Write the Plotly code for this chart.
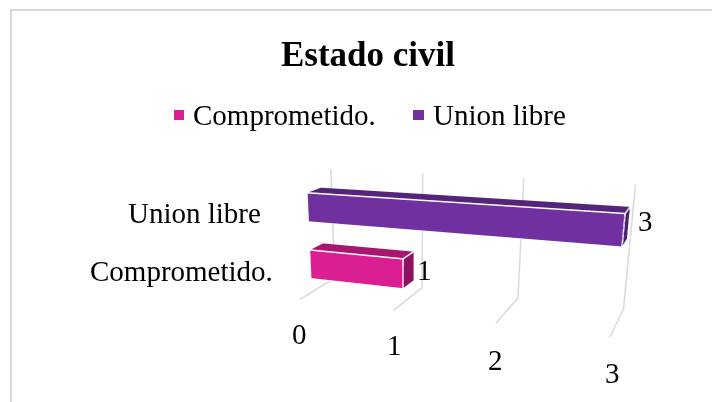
import plotly.graph_objects as go

# --- data ---
categories = ["Comprometido.", "Union libre"]
values = [1, 3]
tick_values = [0, 1, 2, 3]
title_text = "Estado civil"

# --- styles ---
front_colors = ["#DA1F93", "#7030A0"]
top_colors = ["#A8176F", "#54247A"]
side_colors = ["#8B1260", "#4B2070"]
grid_color = "#D9D9D9"
FONT = "Liberation Serif"

W, H = 712, 700          # the scene is taller than the window so that the lens matches
bar_depth = (0.329, 0.69)
bar_heights = [(0.126, 0.378), (0.628, 0.871)]
EYE = (0.8, -2.476, 0.666)
FORWARD = (-0.3955, 0.8432, -0.3641)
UP = (-0.1314, 0.3404, 0.931)
ASPECT = dict(x=1, y=0.262, z=0.388)
tick_shift = [(-1, -35), (1, -34), (0, -37), (3, -36)]
cat_shift = [(-36, -7), (-45, -6)]
val_shift = [(16, 0), (19, 5)]


def px(x):
    return x / W


def py(y):
    return 1 - y / H


fig = go.Figure()

# gridlines: floor line then wall line for every tick
for t in tick_values:
    fig.add_trace(go.Scatter3d(
        x=[t, t, t], y=[0, 1, 1], z=[0, 0, 1], mode="lines",
        line=dict(color=grid_color, width=3), hoverinfo="skip", showlegend=False))

# bars
for cat, val, (z0, z1), cf, ct, cs in zip(categories, values, bar_heights,
                                          front_colors, top_colors, side_colors):
    y0, y1 = bar_depth
    xs = [0, val, val, 0, 0, val, val, 0]
    ys = [y0, y0, y1, y1, y0, y0, y1, y1]
    zs = [z0, z0, z0, z0, z1, z1, z1, z1]
    faces = [
        (0, 1, 5, cf), (0, 5, 4, cf),   # front
        (4, 5, 6, ct), (4, 6, 7, ct),   # top
        (1, 2, 6, cs), (1, 6, 5, cs),   # right side
        (0, 2, 1, cf), (0, 3, 2, cf),   # bottom
        (3, 7, 6, cf), (3, 6, 2, cf),   # back
        (0, 4, 7, cf), (0, 7, 3, cf),   # left
    ]
    fig.add_trace(go.Mesh3d(
        x=xs, y=ys, z=zs,
        i=[f[0] for f in faces], j=[f[1] for f in faces], k=[f[2] for f in faces],
        facecolor=[f[3] for f in faces], flatshading=True,
        lighting=dict(ambient=1, diffuse=0, specular=0, roughness=1, fresnel=0),
        name=cat, hoverinfo="skip", showlegend=False))
    # white bevel edges
    edge_x = [0, val, val, 0, 0, None, val, val, None, val, val, val]
    edge_y = [y0, y0, y0, y0, y0, None, y0, y1, None, y1, y1, y0]
    edge_z = [z1, z1, z0, z0, z1, None, z1, z1, None, z1, z0, z0]
    fig.add_trace(go.Scatter3d(
        x=edge_x, y=edge_y, z=edge_z, mode="lines",
        line=dict(color="#FFFFFF", width=3), hoverinfo="skip", showlegend=False))

txt = dict(family=FONT, size=29, color="#000000")
scene_ann = []
for t, ts in zip(tick_values, tick_shift):
    scene_ann.append(dict(x=t, y=0, z=0, text=str(t), showarrow=False, font=txt,
                          xanchor="center", yanchor="middle", xshift=ts[0], yshift=ts[1]))
for cat, val, (z0, z1), cs, vs in zip(categories, values, bar_heights, cat_shift, val_shift):
    zm = (z0 + z1) / 2
    ym = sum(bar_depth) / 2
    scene_ann.append(dict(x=0, y=bar_depth[0], z=zm, text=cat, showarrow=False, font=txt,
                          xanchor="right", yanchor="middle", xshift=cs[0], yshift=cs[1]))
    scene_ann.append(dict(x=val, y=ym, z=zm, text=str(val), showarrow=False, font=txt,
                          xanchor="center", yanchor="middle", xshift=vs[0], yshift=vs[1]))

axis = dict(visible=False, showgrid=False, zeroline=False, showspikes=False)
fig.update_layout(
    width=W, height=H, margin=dict(l=0, r=0, t=0, b=0), autosize=False,
    paper_bgcolor="#FFFFFF", font=dict(family=FONT),
    title=dict(text=f"<b>{title_text}</b>", x=px(368), y=py(54), xanchor="center", yanchor="middle",
               xref="paper", yref="paper", font=dict(family=FONT, size=35, color="#000000")),
    scene=dict(
        domain=dict(x=[0, 1], y=[0, 1]), bgcolor="#FFFFFF", dragmode=False,
        xaxis=dict(range=[0, 3], **axis), yaxis=dict(range=[0, 1], **axis), zaxis=dict(range=[0, 1], **axis),
        aspectmode="manual", aspectratio=ASPECT,
        camera=dict(
            eye=dict(x=EYE[0], y=EYE[1], z=EYE[2]),
            center=dict(x=EYE[0] + FORWARD[0], y=EYE[1] + FORWARD[1], z=EYE[2] + FORWARD[2]),
            up=dict(x=UP[0], y=UP[1], z=UP[2]),
            projection=dict(type="perspective")),
        annotations=scene_ann),
    annotations=[
        dict(xref="paper", yref="paper", x=px(191), y=py(115), text=categories[0], showarrow=False,
             xanchor="left", yanchor="middle", font=txt),
        dict(xref="paper", yref="paper", x=px(431), y=py(115), text=categories[1], showarrow=False,
             xanchor="left", yanchor="middle", font=txt),
    ],
    shapes=[
        dict(type="line", xref="paper", yref="paper", x0=px(11), x1=px(712), y0=py(10), y1=py(10),
             line=dict(color=grid_color, width=2)),
        dict(type="line", xref="paper", yref="paper", x0=px(11), x1=px(11), y0=py(9), y1=py(402),
             line=dict(color=grid_color, width=2)),
        dict(type="rect", xref="paper", yref="paper", x0=px(174), x1=px(184), y0=py(120), y1=py(110),
             fillcolor=front_colors[0], line=dict(width=0)),
        dict(type="rect", xref="paper", yref="paper", x0=px(413), x1=px(424), y0=py(120), y1=py(110),
             fillcolor=front_colors[1], line=dict(width=0)),
    ],
)
fig.write_html("out.html", config=dict(displayModeBar=False),
               post_script="document.documentElement.style.overflow='hidden';document.body.style.margin='0';document.body.style.overflow='hidden';")
